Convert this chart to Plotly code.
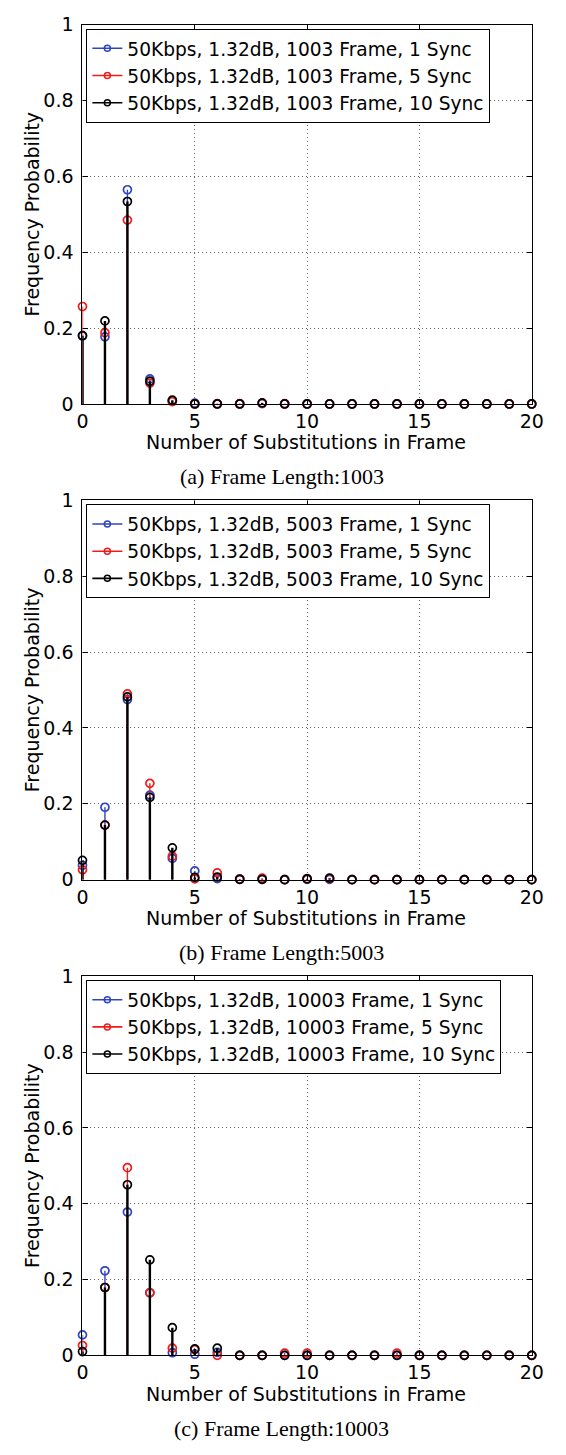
import plotly.graph_objects as go

W, H = 566, 1455

substitutions = list(range(21))

# Panel (a): Frame length 1003
blue_1003 = [0.180, 0.177, 0.565, 0.066, 0.008, 0.002, 0.0, 0.0, 0.001, 0.0,
             0, 0, 0, 0, 0, 0, 0, 0, 0, 0, 0]
red_1003 = [0.257, 0.188, 0.485, 0.055, 0.006, 0.0, 0.001, 0.001, 0.002, 0.001,
            0, 0, 0, 0, 0, 0, 0, 0, 0, 0, 0]
black_1003 = [0.180, 0.219, 0.534, 0.060, 0.010, 0.0, 0.0, 0.0, 0.003, 0.0,
              0, 0, 0, 0, 0, 0, 0, 0, 0, 0, 0]

# Panel (b): Frame length 5003
blue_5003 = [0.038, 0.191, 0.475, 0.223, 0.056, 0.023, 0.003, 0.001, 0.001, 0.0,
             0.001, 0.001, 0, 0, 0, 0, 0, 0, 0, 0, 0]
red_5003 = [0.026, 0.144, 0.490, 0.254, 0.062, 0.002, 0.018, 0.002, 0.004, 0.0,
            0.003, 0.003, 0, 0, 0, 0, 0, 0, 0, 0, 0]
black_5003 = [0.051, 0.144, 0.482, 0.217, 0.084, 0.006, 0.007, 0.001, 0.001, 0.0,
              0.002, 0.004, 0, 0, 0, 0, 0, 0, 0, 0, 0]

# Panel (c): Frame length 10003
blue_10003 = [0.054, 0.223, 0.378, 0.165, 0.007, 0.003, 0.008, 0, 0, 0,
              0, 0, 0, 0, 0, 0, 0, 0, 0, 0, 0]
red_10003 = [0.026, 0.179, 0.495, 0.165, 0.019, 0.015, 0.0, 0, 0, 0.006,
             0.006, 0, 0, 0, 0.006, 0, 0, 0, 0, 0, 0]
black_10003 = [0.010, 0.179, 0.450, 0.252, 0.073, 0.017, 0.019, 0, 0, 0,
               0, 0, 0, 0, 0, 0, 0, 0, 0, 0, 0]

frame_lengths = ["1003", "5003", "10003"]
captions = ["(a) Frame Length:1003", "(b) Frame Length:5003", "(c) Frame Length:10003"]
sync_counts = ["1", "5", "10"]
series_colors = ["#2f45c0", "#f01c1c", "#000000"]
stem_widths = [1.4, 1.4, 2.4]
panels = [
    [blue_1003, red_1003, black_1003],
    [blue_5003, red_5003, black_5003],
    [blue_10003, red_10003, black_10003],
]
y_tickvals = [0, 0.2, 0.4, 0.6, 0.8, 1]
y_ticktext = ["0", "0.2", "0.4", "0.6", "0.8", "1"]
x_tickvals = [0, 5, 10, 15, 20]

# pixel geometry of the plot areas
x_left, x_right = 79, 543
panel_tops = [14, 497, 980]
panel_h = 385

SANS = "DejaVu Sans"
SERIF = "Liberation Serif"

fig = go.Figure()
layout = dict(
    width=W, height=H,
    margin=dict(l=0, r=0, t=0, b=0),
    paper_bgcolor="white", plot_bgcolor="white",
    showlegend=True,
)
annotations = []

for p, (series, fl) in enumerate(zip(panels, frame_lengths)):
    sfx = "" if p == 0 else str(p + 1)
    xa, ya = "x" + sfx, "y" + sfx
    leg = "legend" + sfx
    top = panel_tops[p]
    bot = top + panel_h
    for vals, col, sw in zip(series, series_colors, stem_widths):
        fig.add_trace(go.Scatter(
            x=substitutions, y=vals, mode="markers",
            marker=dict(symbol="circle-open", size=8, color=col,
                        line=dict(width=1.7, color=col)),
            error_y=dict(type="data", symmetric=False,
                         array=[0] * len(vals), arrayminus=vals,
                         width=0, thickness=sw, color=col),
            xaxis=xa, yaxis=ya, showlegend=False, cliponaxis=False,
            hoverinfo="skip",
        ))
    for col, sc in zip(series_colors, sync_counts):
        fig.add_trace(go.Scatter(
            x=[None], y=[None], mode="lines+markers",
            line=dict(color=col, width=1.6),
            marker=dict(symbol="circle-open", size=6, color=col,
                        line=dict(width=1.5, color=col)),
            name=f"50Kbps, 1.32dB, {fl} Frame, {sc} Sync",
            xaxis=xa, yaxis=ya, legend=leg,
        ))
    axis_common = dict(
        showline=True, linecolor="black", linewidth=1.2, mirror="ticks",
        ticks="inside", ticklen=5, tickcolor="black", tickwidth=1,
        showgrid=True, gridcolor="#666666", griddash="1px,3px", gridwidth=1,
        zeroline=False,
        tickfont=dict(family=SANS, size=19, color="black"),
    )
    layout["xaxis" + sfx] = dict(
        axis_common, domain=[x_left / W, x_right / W], anchor=ya,
        range=[0, 20], tickvals=x_tickvals, ticklabelstandoff=0,
    )
    layout["yaxis" + sfx] = dict(
        axis_common, domain=[1 - bot / H, 1 - top / H], anchor=xa,
        range=[0, 1], tickvals=y_tickvals, ticktext=y_ticktext,
        ticklabelstandoff=4,
    )
    layout[leg] = dict(
        x=83 / W, y=1 - (top + 4) / H, xanchor="left", yanchor="top",
        bgcolor="white", bordercolor="black", borderwidth=1,
        font=dict(family=SANS, size=18.6, color="black"),
        tracegroupgap=0,
    )
    annotations.append(dict(
        text="Frequency Probability", textangle=-90, showarrow=False,
        xref="paper", yref="paper", x=27 / W, y=1 - (top + panel_h / 2) / H,
        xanchor="center", yanchor="middle",
        font=dict(family=SANS, size=19, color="black"),
    ))
    annotations.append(dict(
        text="Number of Substitutions in Frame", showarrow=False,
        xref="paper", yref="paper", x=310 / W, y=1 - (bot + 39) / H,
        xanchor="center", yanchor="middle",
        font=dict(family=SANS, size=19, color="black"),
    ))
    annotations.append(dict(
        text=captions[p], showarrow=False,
        xref="paper", yref="paper", x=285 / W, y=1 - (bot + 74) / H,
        xanchor="center", yanchor="middle",
        font=dict(family=SERIF, size=22, color="black"),
    ))

layout["annotations"] = annotations
fig.update_layout(**layout)
fig.write_html("out.html")
